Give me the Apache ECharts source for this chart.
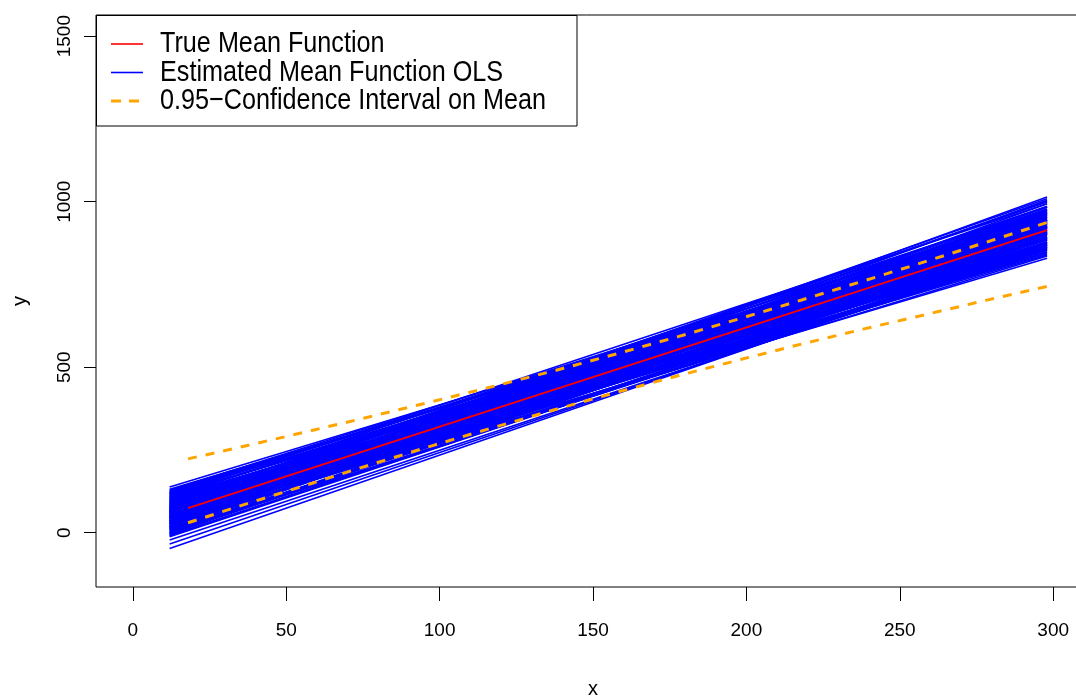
<!DOCTYPE html>
<html>
<head>
<meta charset="utf-8">
<script src="https://cdn.jsdelivr.net/npm/echarts@6/dist/echarts.min.js"></script>
<style>html,body{margin:0;padding:0;background:#fff;}#c{width:1076px;height:696px;}</style>
</head>
<body>
<div id="c"></div>
<script>
// ---- data ----
const xTicks = [0, 50, 100, 150, 200, 250, 300];
const yTicks = [0, 500, 1000, 1500];

// OLS estimated lines: each drawn from x=12 to x=298
const olsX = [12, 298];
const olsLeftY = [138,116,76,51,131,96,66,111,86,121,56,101,36,91,71,106,46,81,61,116,26,76,51,96,66,41,86,31,56,71,46,101,16,61,36,81,21,51,66,11,41,76,26,56,6,36,61,16,46,1,31,-4,51,21,-9,41,-12,11,26,1,126,106,91,121,46,84,68,48,94,34,64,44,78,28,54,74,18,88,8,58,-48,-34,-22,
  128,114,98,82,104,62,38,89,54,23,70,14,32,4,48,118,108,28,72,-4,93,42,80,20,59,100,10,67,-2,85,124,36,63,-8,75,50,30,111,16,65];
const olsRightY = [944,969,1009,1014,924,959,984,934,974,909,964,919,994,939,954,894,974,924,944,874,984,909,939,884,919,949,889,959,914,899,924,864,969,894,929,869,944,904,879,954,909,854,919,874,934,889,849,904,864,914,874,894,839,869,879,829,869,849,836,854,949,984,999,954,1004,962,936,956,926,942,906,892,886,902,928,946,886,902,862,859,869,864,859,
  964,994,944,986,904,972,976,876,886,932,866,912,856,886,846,926,952,966,1002,922,906,914,932,876,922,936,944,890,906,859,940,874,979,864,966,878,924,919,926,842];

// true mean function
const trueX = [18, 298];
const trueY = [74, 914];

// confidence interval curves
const ciX = [18, 38, 58, 78, 98, 118, 138, 158, 178, 198, 218, 238, 258, 278, 298];
const ciUpper = [223, 265, 308, 352, 397, 443, 491, 541, 593, 647, 703, 760, 818, 877, 937];
const ciLower = [30, 90, 148, 207, 264, 319, 373, 425, 475, 523, 570, 615, 658, 702, 744];

const legendNames = ['True Mean Function', 'Estimated Mean Function OLS', '0.95\u2212Confidence Interval on Mean'];
const legendColors = ['#FF0000', '#0000FF', '#FFA500'];

const FONT = "'Liberation Sans', Arial, sans-serif";

const zip = (xs, ys) => xs.map((x, i) => [x, ys[i]]);

const series = [];
olsLeftY.forEach((l, i) => {
  series.push({
    type: 'line', name: legendNames[1],
    data: [[olsX[0], l], [olsX[1], olsRightY[i]]],
    symbol: 'none', silent: true, z: 2,
    lineStyle: { color: legendColors[1], width: 1.6 },
    itemStyle: { color: legendColors[1] }
  });
});
series.push({
  type: 'line', name: legendNames[0], data: zip(trueX, trueY),
  symbol: 'none', silent: true, z: 3,
  lineStyle: { color: legendColors[0], width: 1.8 }, itemStyle: { color: legendColors[0] }
});
[ciUpper, ciLower].forEach(arr => {
  series.push({
    type: 'line', name: legendNames[2], data: zip(ciX, arr),
    symbol: 'none', silent: true, z: 4,
    lineStyle: { color: legendColors[2], width: 3, type: [9, 9] }, itemStyle: { color: legendColors[2] }
  });
});

// legend drawn as graphic (condensed text like the original)
const rowY = [44, 72.5, 101];
const legendChildren = [{
  type: 'rect', shape: { x: 96.5, y: 15.5, width: 480.5, height: 110.5 },
  style: { fill: '#fff', stroke: '#000', lineWidth: 1 }
}];
legendNames.forEach((n, i) => {
  legendChildren.push({
    type: 'line', shape: { x1: 111, y1: rowY[i], x2: 143, y2: rowY[i] },
    style: { stroke: legendColors[i], lineWidth: i === 2 ? 3 : 1.6, lineDash: i === 2 ? [10, 8] : null }
  });
  legendChildren.push({
    type: 'text', x: 160, y: rowY[i], scaleX: 0.84,
    style: { text: n, font: "30px 'Liberation Sans', Arial, sans-serif", fill: '#000', textVerticalAlign: 'middle', textAlign: 'left' }
  });
});

const chart = echarts.init(document.getElementById('c'), null, { renderer: 'canvas' });
chart.setOption({
  animation: false,
  backgroundColor: '#ffffff',
  grid: {
    left: 96, top: 15, right: -14, bottom: 109,
    show: true, borderColor: '#000', borderWidth: 1, backgroundColor: 'transparent',
    containLabel: false, outerBoundsMode: 'none'
  },
  xAxis: {
    type: 'value', min: -12, max: 312,
    name: 'x', nameLocation: 'middle', nameGap: 92,
    nameTextStyle: { fontFamily: FONT, fontSize: 20, color: '#000' },
    axisLine: { show: false, onZero: false },
    axisTick: { show: true, length: 14, lineStyle: { color: '#000', width: 1 }, customValues: xTicks },
    axisLabel: { fontFamily: FONT, fontSize: 19, color: '#000', margin: 34, customValues: xTicks, formatter: v => String(v) },
    splitLine: { show: false }
  },
  yAxis: {
    type: 'value', min: -164, max: 1564,
    name: 'y', nameLocation: 'middle', nameGap: 66, nameRotate: 90,
    nameTextStyle: { fontFamily: FONT, fontSize: 20, color: '#000' },
    axisLine: { show: false, onZero: false },
    axisTick: { show: true, length: 12, lineStyle: { color: '#000', width: 1 }, customValues: yTicks },
    axisLabel: { fontFamily: FONT, fontSize: 19, color: '#000', margin: 22, rotate: 90, customValues: yTicks, formatter: v => String(v) },
    splitLine: { show: false }
  },
  graphic: [{ type: 'group', z: 100, children: legendChildren }],
  series: series
});
</script>
</body>
</html>
